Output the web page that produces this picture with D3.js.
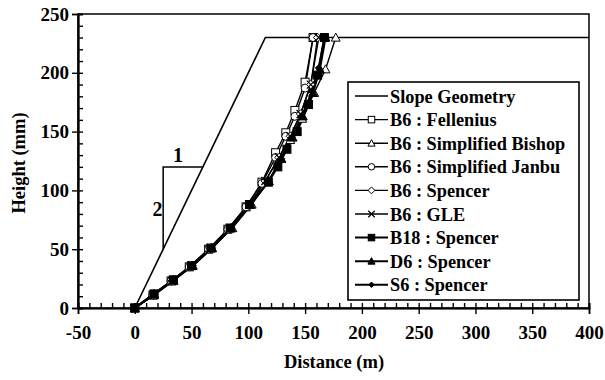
<!DOCTYPE html>
<html><head><meta charset="utf-8">
<script src="https://cdn.jsdelivr.net/npm/d3@7"></script>
<style>body{margin:0;background:#fff}svg{display:block}text{font-family:"Liberation Serif","Times New Roman",Times,"DejaVu Serif",serif !important;font-weight:bold;fill:#000}</style>
</head><body><svg id="c" width="605" height="380"></svg>
<script>
// ---- data ----
const xTicks = [-50,0,50,100,150,200,250,300,350,400];
const yTicks = [0,50,100,150,200,250];
const slopeX = [0,115,400];
const slopeY = [0,230,230];
const fellX = [0,16,32,48,65,82,98,112,124,133,141,150,157];
const fellY = [0,11,23,35,50,67,86,107,132,149,168,192,230];
const bishX = [0,17,34,51,68,86,103,118,129,137,147.5,158,168,177];
const bishY = [0,11,23,36,51,68,88,108,127,143,161,183,203,230];
const janbX = [0,16,32,48,65,82,98,112,124,133,141,150,157];
const janbY = [0,11,23,35,50,67,86,106,128,146,163,187,230];
const spenX = [0,17,33,50,67,84,101,115,127,137,146,155,161];
const spenY = [0,11,23,36,51,68,88,108,128,146,165,190,230];
const gleX = [0,17,33,50,67,84,101,115,127,137,146,155,162];
const gleY = [0,11,23,36,51,68,88,108,128,146,165,190,230];
const b18X = [0,17,34,50,67,84,101,117.6,126,134,143,153,161,167];
const b18Y = [0,12,24,36,51,68,88,107,120,135,150,173,198,230];
const d6X = [0,17,34,51,68,85,102,118,129,139,148,157,163,168];
const d6Y = [0,12,24,36,51,68,88,108,127,145,163,183,203,230];
const s6X = [0,17,34,51,68,85,102,118,129,138,147,156,162,167];
const s6Y = [0,12,24,36,51,68,88,108,127,145,163,184,204,230];
const labels = ["Slope Geometry","B6 : Fellenius","B6 : Simplified Bishop","B6 : Simplified Janbu","B6 : Spencer","B6 : GLE","B18 : Spencer","D6 : Spencer","S6 : Spencer"];

// ---- drawing ----
const svg = d3.select("#c");
const x = d3.scaleLinear().domain([-50,400]).range([78,589]);
const y = d3.scaleLinear().domain([0,250]).range([308,14]);

const series = [
  {xs:slopeX, ys:slopeY, m:null, w:1.6},
  {xs:fellX, ys:fellY, m:"sq", w:1.4},
  {xs:bishX, ys:bishY, m:"tri", w:1.4},
  {xs:janbX, ys:janbY, m:"circ", w:1.4},
  {xs:spenX, ys:spenY, m:"dia", w:1.4},
  {xs:gleX, ys:gleY, m:"x", w:1.4},
  {xs:b18X, ys:b18Y, m:"sqf", w:2},
  {xs:d6X, ys:d6Y, m:"trif", w:2},
  {xs:s6X, ys:s6Y, m:"diaf", w:2}
];

// frame
svg.append("rect").attr("x",x(-50)).attr("y",y(250)).attr("width",x(400)-x(-50)).attr("height",y(0)-y(250))
  .attr("fill","none").attr("stroke","#000").attr("stroke-width",1.5);

// axes
const fmt = d => String(d);
const minorX = d3.range(-50,401,10).filter(v=>v%50!==0);
const minorY = d3.range(0,251,10).filter(v=>v%50!==0);
const gx = svg.append("g").attr("transform",`translate(0,${y(0)})`);
gx.call(d3.axisBottom(x).tickValues(xTicks).tickSize(6).tickPadding(12).tickFormat(fmt));
gx.append("g").call(d3.axisBottom(x).tickValues(xTicks).tickSize(-5).tickFormat(""));
gx.append("g").call(d3.axisBottom(x).tickValues(minorX).tickSize(-5).tickFormat(""));
const gy = svg.append("g").attr("transform",`translate(${x(-50)},0)`);
gy.call(d3.axisLeft(y).tickValues(yTicks).tickSize(6).tickPadding(3).tickFormat(fmt));
gy.append("g").call(d3.axisLeft(y).tickValues(yTicks).tickSize(-5).tickFormat(""));
gy.append("g").call(d3.axisLeft(y).tickValues(minorY).tickSize(-5).tickFormat(""));
svg.selectAll("g").attr("font-family",null);
svg.selectAll(".domain").attr("stroke","#000").attr("stroke-width",1.6);
svg.selectAll(".tick line").attr("stroke","#000").attr("stroke-width",1.4);
svg.selectAll(".tick text").style("font-size","19px");

// axis titles
svg.append("text").attr("x",334).attr("y",368).attr("text-anchor","middle").style("font-size","18.5px").text("Distance (m)");
svg.append("text").attr("transform","translate(25,163) rotate(-90)").attr("text-anchor","middle").style("font-size","18.5px").text("Height (mm)");

// slope triangle annotation
const tri = [[25,50],[25,120],[60,120]];
svg.append("path").attr("d",d3.line().x(d=>x(d[0])).y(d=>y(d[1]))(tri)).attr("fill","none").attr("stroke","#000").attr("stroke-width",1.5);
svg.append("text").attr("x",x(38)).attr("y",y(124)).attr("text-anchor","middle").style("font-size","20px").text("1");
svg.append("text").attr("x",x(20)).attr("y",y(84)+7).attr("text-anchor","middle").style("font-size","20px").text("2");

function marker(g, type, cx, cy, s){
  const h = s/2;
  if(type==="sq"||type==="sqf"){
    g.append("rect").attr("x",cx-h).attr("y",cy-h).attr("width",s).attr("height",s)
      .attr("fill",type==="sq"?"#fff":"#000").attr("stroke","#000").attr("stroke-width",1);
  } else if(type==="tri"||type==="trif"){
    g.append("path").attr("d",`M${cx},${cy-h*1.1}L${cx+h*1.1},${cy+h*0.9}L${cx-h*1.1},${cy+h*0.9}Z`)
      .attr("fill",type==="tri"?"#fff":"#000").attr("stroke","#000").attr("stroke-width",1);
  } else if(type==="circ"){
    g.append("circle").attr("cx",cx).attr("cy",cy).attr("r",h).attr("fill","#fff").attr("stroke","#000").attr("stroke-width",1);
  } else if(type==="dia"||type==="diaf"){
    const k = type==="dia"?h*1.05:h*0.85;
    g.append("path").attr("d",`M${cx},${cy-k}L${cx+k},${cy}L${cx},${cy+k}L${cx-k},${cy}Z`)
      .attr("fill",type==="dia"?"#fff":"#000").attr("stroke","#000").attr("stroke-width",1);
  } else if(type==="x"){
    g.append("path").attr("d",`M${cx-h},${cy-h}L${cx+h},${cy+h}M${cx-h},${cy+h}L${cx+h},${cy-h}`)
      .attr("stroke","#000").attr("stroke-width",1.2);
  }
}

const line = d3.line().x(d=>x(d[0])).y(d=>y(d[1]));
const plot = svg.append("g");
series.forEach(s=>{
  const pts = s.xs.map((v,i)=>[v,s.ys[i]]);
  plot.append("path").attr("d",line(pts)).attr("fill","none").attr("stroke","#000").attr("stroke-width",s.w);
});
series.forEach(s=>{
  if(!s.m) return;
  const g = plot.append("g");
  s.xs.forEach((v,i)=>marker(g,s.m,x(v),y(s.ys[i]),8));
});

// legend
const lg = svg.append("g");
lg.append("rect").attr("x",348).attr("y",82).attr("width",231).attr("height",218).attr("fill","#fff").attr("stroke","#000").attr("stroke-width",1.6);
labels.forEach((t,i)=>{
  const cy = 96 + i*23.6;
  lg.append("line").attr("x1",355).attr("x2",388).attr("y1",cy).attr("y2",cy).attr("stroke","#000").attr("stroke-width",series[i].w);
  if(series[i].m) marker(lg, series[i].m, 371.5, cy, 6.5);
  lg.append("text").attr("x",390).attr("y",cy+6.5).style("font-size","18.3px").text(t);
});
</script></body></html>
